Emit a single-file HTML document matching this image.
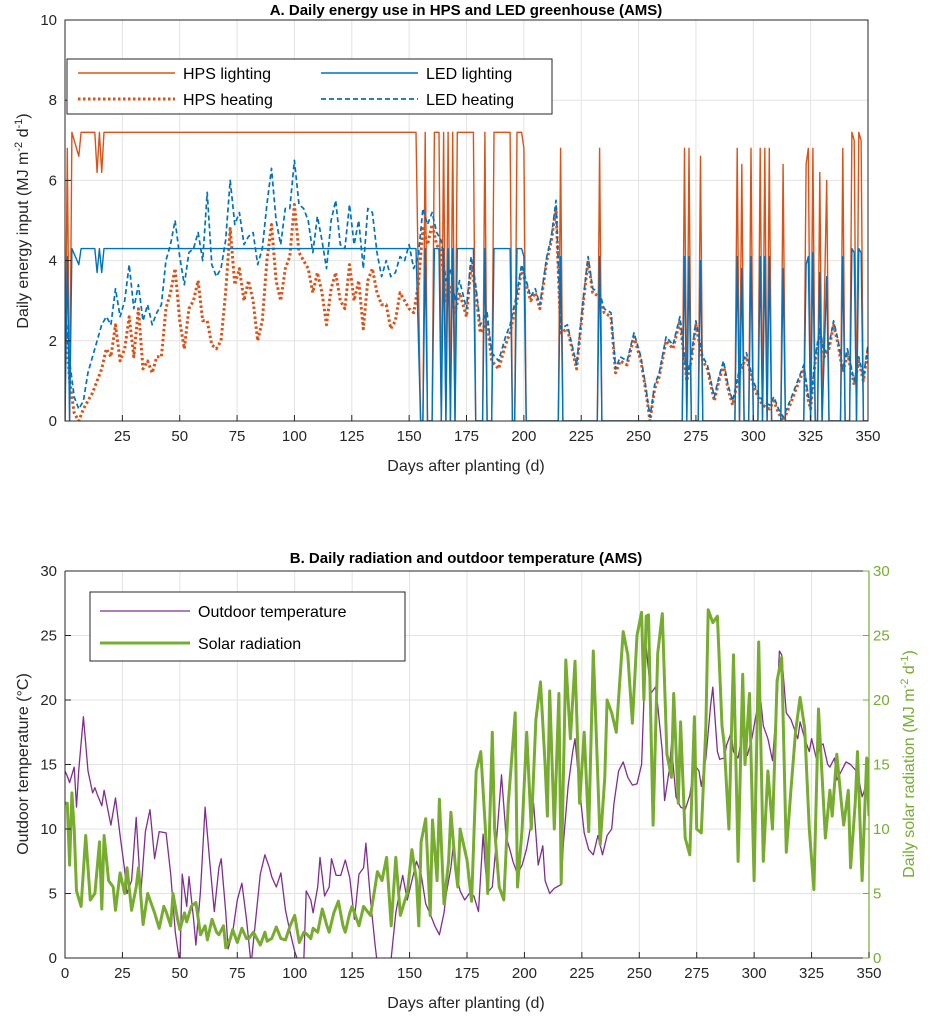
<!DOCTYPE html>
<html><head><meta charset="utf-8"><style>
html,body{margin:0;padding:0;background:#fff}
svg{display:block;font-family:"Liberation Sans",sans-serif}
</style></head><body>
<svg id="svg" width="933" height="1019" viewBox="0 0 933 1019">
<defs>
<clipPath id="clipA"><rect x="65" y="20" width="803" height="401"/></clipPath>
<clipPath id="clipB"><rect x="65" y="571" width="804" height="387"/></clipPath>
</defs>
<g id="gA"></g>
<g id="gB"></g>
</svg>
<script>
const xTicksA = [25,50,75,100,125,150,175,200,225,250,275,300,325,350];
const yTicksA = [0,2,4,6,8,10];
const xTicksB = [0,25,50,75,100,125,150,175,200,225,250,275,300,325,350];
const yTicksB = [0,5,10,15,20,25,30];

const hpsLight = [[0,0],[1,6.8],[2,0],[3,7.2],[6,6.6],[7,7.2],[13,7.2],[14,6.2],[15,7.2],[16,6.2],[17,7.2],[153,7.2],[155,0],[156,0],[157,7.2],[158,0],[160,0],[161,7.2],[163,7.2],[164,0],[165,7.2],[166,0],[167,7.2],[168,0],[169,7.2],[170,0],[171,7.2],[172,7.2],[178,7.2],[179,0],[182,0],[183,7.2],[184,0],[186,0],[187,7.2],[194,7.2],[195,0],[196,0],[197,7.2],[199,7.2],[200,6.8],[201,0],[215,0],[216,6.8],[217,0],[232,0],[233,6.8],[234,0],[269,0],[270,6.8],[271,0],[272,6.8],[273,0],[276,0],[277,6.6],[278,0],[292,0],[293,6.8],[294,0],[295,6.4],[296,0],[298,0],[299,6.8],[300,0],[302,0],[303,6.8],[304,0],[305,6.8],[306,0],[307,6.8],[308,0],[312,0],[313,6.4],[314,0],[322,0],[323,6.4],[324,6.8],[325,0],[326,6.8],[327,0],[328,0],[329,6.2],[330,0],[332,6.0],[333,0],[338,0],[339,6.8],[340,0],[342,0],[343,7.2],[344,7.0],[345,0],[346,7.2],[347,7.0],[348,0],[350,0]];
const ledLight = [[0,0],[1,4.1],[2,0],[3,4.3],[6,3.9],[7,4.3],[13,4.3],[14,3.7],[15,4.3],[16,3.7],[17,4.3],[153,4.3],[155,0],[156,0],[157,4.3],[158,0],[160,0],[161,4.3],[163,4.3],[164,0],[165,4.3],[166,0],[167,4.3],[168,0],[169,4.3],[170,0],[171,4.3],[172,4.3],[178,4.3],[179,0],[182,0],[183,4.3],[184,0],[186,0],[187,4.3],[194,4.3],[195,0],[196,0],[197,4.3],[199,4.3],[200,4.1],[201,0],[215,0],[216,4.1],[217,0],[232,0],[233,4.1],[234,0],[269,0],[270,4.1],[271,0],[272,4.1],[273,0],[276,0],[277,4.0],[278,0],[292,0],[293,4.1],[294,0],[295,3.8],[296,0],[298,0],[299,4.1],[300,0],[302,0],[303,4.1],[304,0],[305,4.1],[306,0],[307,4.1],[308,0],[312,0],[313,3.8],[314,0],[322,0],[323,3.9],[324,4.1],[325,0],[326,4.2],[327,0],[328,0],[329,3.7],[330,0],[332,3.6],[333,0],[338,0],[339,4.1],[340,0],[342,0],[343,4.3],[344,4.2],[345,0],[346,4.3],[347,4.2],[348,0],[350,0]];
const hpsHeat = [[0,2.6],[2,1.0],[4,0.2],[6,0],[8,0.3],[10,0.5],[12,0.7],[14,1.0],[16,1.3],[18,1.8],[20,1.6],[22,2.4],[24,1.5],[26,1.8],[28,2.6],[30,1.6],[32,2.8],[34,1.3],[36,1.5],[38,1.2],[40,1.6],[42,1.6],[44,2.8],[46,3.2],[48,3.8],[50,2.5],[52,1.8],[54,2.8],[56,3.0],[58,3.5],[60,2.5],[62,2.5],[64,1.9],[66,1.8],[68,2.0],[70,3.2],[72,4.8],[74,3.4],[76,3.8],[78,3.0],[80,3.5],[82,3.0],[84,2.0],[86,2.5],[88,4.0],[90,4.9],[92,3.5],[94,3.0],[96,3.8],[98,4.1],[100,5.4],[102,4.2],[104,4.0],[106,3.8],[108,3.2],[110,3.7],[112,3.2],[114,2.4],[116,3.3],[118,3.7],[120,3.0],[122,2.8],[124,3.9],[126,3.0],[128,3.5],[130,2.3],[132,3.5],[134,3.8],[136,3.2],[138,2.9],[140,2.9],[142,2.3],[144,2.5],[146,3.2],[148,3.0],[150,2.8],[152,2.7],[154,3.4],[156,4.8],[158,4.4],[160,4.9],[162,4.4],[164,4.2],[166,3.0],[168,3.4],[170,2.7],[172,3.2],[175,2.6],[177,3.9],[179,3.2],[181,2.2],[184,2.5],[186,1.5],[189,1.3],[192,1.9],[194,2.2],[197,3.0],[199,3.8],[201,3.4],[203,3.0],[205,3.2],[207,2.8],[210,4.0],[212,4.5],[214,5.3],[216,2.2],[219,2.3],[221,1.8],[223,1.3],[226,3.0],[228,4.0],[230,3.2],[233,3.1],[235,2.7],[238,2.6],[240,1.2],[242,1.5],[245,1.4],[248,2.1],[251,1.5],[253,0.8],[255,0.0],[257,0.8],[259,1.1],[262,2.0],[265,1.8],[268,2.5],[271,1.0],[273,1.5],[275,2.4],[278,1.5],[280,1.3],[283,0.5],[285,1.0],[287,1.4],[289,0.8],[291,0.4],[294,1.2],[297,1.6],[300,0.9],[302,0.6],[304,0.4],[307,0.3],[309,0.5],[311,0.2],[313,0.0],[316,0.4],[318,0.7],[320,1.0],[322,1.3],[324,0.5],[325,0.3],[327,1.5],[329,2.2],[331,1.6],[333,1.8],[335,2.4],[337,1.9],[339,1.2],[341,1.7],[344,0.9],[346,1.5],[348,1.0],[350,1.8]];
const ledHeat = [[0,2.8],[2,1.5],[4,0.6],[6,0.3],[8,0.5],[10,1.2],[12,1.6],[14,2.0],[16,2.4],[18,2.6],[20,2.4],[22,3.3],[24,2.6],[26,3.0],[28,3.9],[30,2.8],[32,3.4],[34,2.5],[36,2.9],[38,2.4],[40,2.7],[42,2.9],[44,4.0],[46,4.4],[48,5.0],[50,4.1],[52,3.4],[54,4.2],[56,4.3],[58,4.7],[60,4.0],[62,5.7],[64,3.9],[66,3.6],[68,3.8],[70,4.5],[72,6.0],[74,4.9],[76,5.2],[78,4.4],[80,4.6],[82,4.7],[84,3.9],[86,4.3],[88,5.4],[90,6.3],[92,5.0],[94,4.4],[96,5.3],[98,5.3],[100,6.5],[102,5.4],[104,5.3],[106,5.0],[108,4.2],[110,5.1],[112,4.5],[114,3.8],[116,5.0],[118,5.5],[120,4.4],[122,4.3],[124,5.4],[126,4.4],[128,5.0],[130,3.8],[132,5.3],[134,5.2],[136,4.2],[138,3.6],[140,4.0],[142,3.6],[144,3.7],[146,4.1],[148,4.0],[150,4.4],[152,3.8],[154,4.1],[156,5.3],[158,4.9],[160,5.2],[162,4.7],[164,4.5],[166,3.5],[168,3.8],[170,3.0],[172,3.5],[175,2.8],[177,4.1],[179,3.4],[181,2.4],[184,2.7],[186,1.7],[189,1.5],[192,2.1],[194,2.4],[197,3.2],[199,3.9],[201,3.5],[203,3.1],[205,3.3],[207,2.9],[210,4.1],[212,4.6],[214,5.5],[216,2.3],[219,2.4],[221,1.9],[223,1.4],[226,3.1],[228,4.1],[230,3.3],[233,3.2],[235,2.8],[238,2.7],[240,1.3],[242,1.6],[245,1.5],[248,2.2],[251,1.6],[253,0.9],[255,0.1],[257,0.9],[259,1.2],[262,2.1],[265,1.9],[268,2.6],[271,1.1],[273,1.6],[275,2.5],[278,1.6],[280,1.4],[283,0.6],[285,1.1],[287,1.5],[289,0.9],[291,0.5],[294,1.3],[297,1.7],[300,1.0],[302,0.7],[304,0.5],[307,0.4],[309,0.6],[311,0.3],[313,0.1],[316,0.5],[318,0.8],[320,1.1],[322,1.4],[324,0.6],[325,0.4],[327,1.6],[329,2.3],[331,1.7],[333,1.9],[335,2.5],[337,2.0],[339,1.3],[341,1.8],[344,1.0],[346,1.6],[348,1.1],[350,1.9]];
const tempOut = [[0,14.5],[1,14.1],[2,13.6],[4,14.8],[5,11.7],[6,14.6],[8,18.7],[10,14.5],[12,12.8],[13,13.2],[14,12.7],[16,11.8],[17,13.0],[19,11.2],[20,10.3],[22,12.4],[24,9.5],[26,6.8],[27,5.0],[29,6.0],[31,10.9],[33,5.0],[35,9.8],[37,11.5],[39,7.7],[41,9.8],[44,9.7],[46,6.5],[48,2.0],[50,-0.5],[51,6.5],[53,4.0],[54,6.3],[56,3.0],[57,1.0],[59,5.2],[61,11.7],[63,7.5],[65,3.6],[67,7.0],[68,7.7],[70,3.5],[71,0.7],[73,2.0],[75,4.5],[77,5.8],[79,3.0],[81,-0.5],[83,3.0],[85,6.5],[87,8.0],[89,7.0],[90,6.3],[92,5.5],[94,6.6],[96,3.7],[98,2.0],[100,0.5],[102,-0.5],[104,0],[105,5.2],[107,4.5],[108,3.5],[110,5.5],[111,7.8],[113,4.8],[115,5.5],[116,7.7],[118,6.4],[120,6.4],[122,7.6],[124,6.2],[126,3.0],[128,6.5],[130,7.0],[131,8.9],[133,4.5],[135,1.0],[136,-0.5],[139,0],[141,-0.5],[142,0],[144,3.5],[146,5.5],[147,6.4],[149,4.5],[151,6.0],[153,7.5],[155,6.5],[157,4.2],[159,3.4],[161,2.5],[163,1.8],[165,3.5],[166,5.0],[168,7.0],[169,8.7],[171,6.0],[172,5.2],[174,4.5],[176,5.0],[178,4.8],[180,3.6],[182,9.6],[183,7.0],[184,5.1],[186,5.5],[188,9.5],[190,14.2],[192,9.4],[194,8.2],[195,7.5],[197,6.5],[199,7.2],[201,8.5],[203,10.5],[204,12.0],[206,7.2],[208,8.7],[209,6.0],[211,5.0],[213,5.4],[216,5.7],[217,9.0],[219,13.3],[221,16.0],[222,17.0],[224,13.0],[226,9.7],[228,8.4],[230,8.0],[232,9.5],[234,8.0],[236,9.5],[238,10.0],[239,12.0],[241,14.5],[243,15.2],[245,14.0],[247,13.4],[249,13.5],[251,15.0],[252,20.0],[253,24.1],[255,20.5],[257,21.0],[258,19.6],[260,16.0],[261,12.2],[263,14.5],[264,16.5],[266,12.5],[268,11.7],[270,11.5],[272,12.6],[274,15.0],[276,14.5],[277,13.3],[279,15.5],[281,19.5],[282,21.0],[284,16.0],[285,15.4],[287,15.5],[288,16.5],[290,17.5],[291,16.0],[293,15.5],[295,17.5],[297,15.7],[299,17.0],[301,19.0],[303,19.8],[304,18.0],[306,17.0],[308,15.3],[310,20.0],[311,23.8],[312,23.5],[314,19.0],[316,18.5],[317,18.0],[319,17.0],[320,18.3],[322,17.0],[324,16.0],[325,17.0],[327,15.5],[329,16.5],[330,16.6],[332,15.0],[333,14.8],[335,15.5],[336,13.8],[338,14.5],[340,15.2],[342,15.0],[344,14.6],[345,14.4],[347,12.5],[348,13.0],[350,15.5]];
const solarRad = [[0,12],[1,12],[2,7.2],[3,12.8],[4,10],[5,5.2],[7,4.0],[9,9.5],[11,4.5],[13,5.0],[15,9.0],[16,3.8],[17,9.5],[19,6.0],[21,5.5],[22,3.7],[24,6.6],[26,5.0],[27,7.0],[29,3.7],[31,5.5],[32,7.0],[34,2.6],[36,5.0],[37,4.5],[39,3.5],[41,2.3],[43,4.0],[44,3.6],[46,2.5],[47,5.0],[49,3.0],[50,2.2],[52,3.5],[53,2.8],[55,4.0],[57,4.3],[59,1.8],[61,2.5],[62,1.4],[64,3.0],[66,2.0],[67,1.8],[69,2.5],[70,0.8],[72,1.5],[73,2.2],[75,1.2],[77,2.3],[79,1.5],[80,1.5],[82,2.0],[85,1.0],[87,2.0],[88,1.3],[90,1.5],[92,2.4],[94,1.5],[96,1.4],[98,2.5],[100,3.3],[102,1.2],[104,2.0],[105,1.9],[107,1.5],[108,2.3],[110,2.0],[112,3.8],[114,2.5],[115,2.0],[117,3.5],[119,4.4],[121,2.5],[122,2.0],[124,3.5],[125,4.0],[127,3.0],[128,2.5],[130,4.0],[133,3.3],[135,5.5],[136,6.7],[138,6.0],[140,7.8],[142,2.5],[144,7.8],[146,3.3],[148,4.5],[149,5.0],[151,8.4],[153,6.0],[154,2.5],[155,9.0],[157,10.8],[159,3.3],[160,10.7],[162,6.0],[163,12.3],[165,4.2],[167,7.5],[168,11.3],[170,7.0],[171,5.5],[172,10.0],[175,7.6],[177,4.4],[179,14.5],[181,16.0],[183,10.0],[184,5.0],[186,17.5],[187,10.0],[189,5.5],[191,4.5],[193,12.0],[196,19.0],[197,5.5],[199,10.0],[201,17.5],[203,10.0],[205,18.5],[207,21.4],[209,15.0],[210,11.0],[211,20.7],[213,10.0],[215,20.5],[216,5.8],[218,23.1],[220,17.0],[222,23.0],[224,12.0],[226,17.5],[228,9.8],[230,23.8],[233,8.8],[235,14.0],[236,20.0],[238,19.0],[240,17.5],[243,25.3],[245,23.5],[247,18.2],[249,25.0],[251,26.8],[252,20.0],[253,26.5],[254,26.6],[256,10.3],[258,23.6],[260,26.7],[262,15.8],[264,14.0],[265,20.5],[267,12.0],[268,18.3],[270,9.3],[272,8.0],[274,18.7],[275,10.0],[277,9.7],[279,18.0],[280,27.0],[282,26.0],[284,26.5],[286,18.0],[287,16.5],[289,10.0],[291,23.5],[293,7.5],[295,22.0],[296,15.0],[298,20.5],[300,6.0],[302,24.5],[304,7.5],[306,14.5],[308,10.0],[310,21.5],[312,23.3],[314,8.2],[316,13.0],[318,17.5],[320,20.2],[322,17.8],[324,10.0],[326,5.3],[328,19.3],[331,9.3],[333,13.0],[334,11.0],[336,15.8],[338,12.0],[339,10.3],[341,13.0],[342,7.0],[344,12.0],[345,16.0],[347,6.0],[349,15.5],[350,11]];

const NS = "http://www.w3.org/2000/svg";
function mk(parent, tag, attrs, text) {
  const e = document.createElementNS(NS, tag);
  for (const k in attrs) e.setAttribute(k, attrs[k]);
  if (text !== undefined) e.textContent = text;
  parent.appendChild(e);
  return e;
}
const A = {x0:65, x1:868, yT:20, yB:421, ymax:10};
const B = {x0:65, x1:869, yT:571, yB:958, ymax:30};
const xA = d => A.x0 + d / 350 * (A.x1 - A.x0);
const yA = v => A.yB - v / A.ymax * (A.yB - A.yT);
const xB = d => B.x0 + d / 350 * (B.x1 - B.x0);
const yB = v => B.yB - v / B.ymax * (B.yB - B.yT);
function pathOf(pts, fx, fy) {
  return pts.map((p, i) => (i ? "L" : "M") + fx(p[0]).toFixed(1) + "," + fy(p[1]).toFixed(1)).join("");
}

// ---------- Chart A ----------
const gA = document.getElementById("gA");
for (const t of xTicksA) {
  const l = mk(gA, "line", {x1:xA(t), x2:xA(t), y1:A.yT, y2:A.yB, stroke:"#e3e3e3", "stroke-width":1});
  
  
}
for (const t of yTicksA) {
  const l = mk(gA, "line", {x1:A.x0, x2:A.x1, y1:yA(t), y2:yA(t), stroke:"#e3e3e3", "stroke-width":1});
  
  
}
const seriesA = [
  {pts:hpsLight, c:"#D95319", w:1.4, dash:null, name:"hps-lighting-line"},
  {pts:hpsHeat, c:"#D95319", w:3, dash:"2.5,2.5", name:"hps-heating-line"},
  {pts:ledHeat, c:"#0072BD", w:1.7, dash:"5,3", name:"led-heating-line"},
  {pts:ledLight, c:"#0072BD", w:1.4, dash:null, name:"led-lighting-line"}
];
for (const s of seriesA) {
  const p = mk(gA, "path", {d:pathOf(s.pts, xA, yA), fill:"none", stroke:s.c, "stroke-width":s.w, "clip-path":"url(#clipA)", "stroke-linejoin":"round"});
  if (s.dash) p.setAttribute("stroke-dasharray", s.dash);
  
  
}
const boxA = mk(gA, "rect", {x:A.x0, y:A.yT, width:A.x1-A.x0, height:A.yB-A.yT, fill:"none", stroke:"#262626", "stroke-width":1});


for (const t of xTicksA) {
  const tk = mk(gA, "line", {x1:xA(t), x2:xA(t), y1:A.yB, y2:A.yB-6, stroke:"#262626"});
  
  
  const lb = mk(gA, "text", {x:xA(t), y:A.yB+20, "text-anchor":"middle", "font-size":15, fill:"#262626"}, String(t));
  
  
}
for (const t of yTicksA) {
  const tk = mk(gA, "line", {x1:A.x0, x2:A.x0+6, y1:yA(t), y2:yA(t), stroke:"#262626"});
  
  
  const lb = mk(gA, "text", {x:A.x0-8, y:yA(t)+5, "text-anchor":"end", "font-size":15, fill:"#262626"}, String(t));
  
  
}
</script>
<script>
// static text for chart A
(function(){
const gA = document.getElementById("gA");
gA.insertAdjacentHTML("beforeend", `
<text x="466" y="15" text-anchor="middle" font-size="15" font-weight="bold" fill="#000">A. Daily energy use in HPS and LED greenhouse (AMS)</text>
<text x="466" y="471" text-anchor="middle" font-size="16" fill="#262626">Days after planting (d)</text>
<text transform="translate(28,221) rotate(-90)" text-anchor="middle" font-size="16" fill="#262626">Daily energy input (MJ m<tspan dy="-6" font-size="11">-2</tspan><tspan dy="6"> d</tspan><tspan dy="-6" font-size="11">-1</tspan><tspan dy="6">)</tspan></text>
<g>
<rect x="67" y="59" width="485" height="55" fill="#fff" stroke="#262626" stroke-width="1"/>
<g><line x1="78" x2="175" y1="73" y2="73" stroke="#D95319" stroke-width="1.4"/><text x="183" y="79" font-size="16" fill="#000">HPS lighting</text></g>
<g><line x1="78" x2="175" y1="99" y2="99" stroke="#D95319" stroke-width="3" stroke-dasharray="2.5,2.5"/><text x="183" y="105" font-size="16" fill="#000">HPS heating</text></g>
<g><line x1="321" x2="418" y1="73" y2="73" stroke="#0072BD" stroke-width="1.4"/><text x="426" y="79" font-size="16" fill="#000">LED lighting</text></g>
<g><line x1="321" x2="418" y1="99" y2="99" stroke="#0072BD" stroke-width="1.7" stroke-dasharray="5,3"/><text x="426" y="105" font-size="16" fill="#000">LED heating</text></g>
</g>`);
})();

// ---------- Chart B ----------
const gB = document.getElementById("gB");
for (const t of xTicksB) {
  const l = mk(gB, "line", {x1:xB(t), x2:xB(t), y1:B.yT, y2:B.yB, stroke:"#e3e3e3", "stroke-width":1});
  
  
}
for (const t of yTicksB) {
  const l = mk(gB, "line", {x1:B.x0, x2:B.x1, y1:yB(t), y2:yB(t), stroke:"#e3e3e3", "stroke-width":1});
  
  
}
const tp = mk(gB, "path", {d:pathOf(tempOut, xB, yB), fill:"none", stroke:"#7E2F8E", "stroke-width":1.3, "clip-path":"url(#clipB)", "stroke-linejoin":"round"});


const sp = mk(gB, "path", {d:pathOf(solarRad, xB, yB), fill:"none", stroke:"#77AC30", "stroke-width":3, "clip-path":"url(#clipB)", "stroke-linejoin":"round"});


const fl = mk(gB, "path", {d:`M${B.x0},${B.yT}V${B.yB}H${B.x1}`, fill:"none", stroke:"#262626", "stroke-width":1});


const tl = mk(gB, "line", {x1:B.x0, x2:B.x1, y1:B.yT, y2:B.yT, stroke:"#262626", "stroke-width":1});


const rl = mk(gB, "line", {x1:B.x1, x2:B.x1, y1:B.yT, y2:B.yB, stroke:"#77AC30", "stroke-width":1.2});


for (const t of xTicksB) {
  const tk = mk(gB, "line", {x1:xB(t), x2:xB(t), y1:B.yB, y2:B.yB-6, stroke:"#262626"});
  
  
  const lb = mk(gB, "text", {x:xB(t), y:B.yB+20, "text-anchor":"middle", "font-size":15, fill:"#262626"}, String(t));
  
  
}
for (const t of yTicksB) {
  const tk = mk(gB, "line", {x1:B.x0, x2:B.x0+6, y1:yB(t), y2:yB(t), stroke:"#262626"});
  
  
  const lb = mk(gB, "text", {x:B.x0-8, y:yB(t)+5, "text-anchor":"end", "font-size":15, fill:"#262626"}, String(t));
  
  
  const tr = mk(gB, "line", {x1:B.x1, x2:B.x1-6, y1:yB(t), y2:yB(t), stroke:"#77AC30"});
  
  
  const lr = mk(gB, "text", {x:B.x1+4, y:yB(t)+5, "text-anchor":"start", "font-size":15, fill:"#77AC30"}, String(t));
  
  
}
gB.insertAdjacentHTML("beforeend", `
<text x="466" y="563" text-anchor="middle" font-size="15" font-weight="bold" fill="#000">B. Daily radiation and outdoor temperature (AMS)</text>
<text x="466" y="1008" text-anchor="middle" font-size="16" fill="#262626">Days after planting (d)</text>
<text transform="translate(28,764) rotate(-90)" text-anchor="middle" font-size="16" fill="#262626">Outdoor temperature (°C)</text>
<text transform="translate(914,764) rotate(-90)" text-anchor="middle" font-size="16" fill="#77AC30">Daily solar radiation (MJ m<tspan dy="-6" font-size="11">-2</tspan><tspan dy="6"> d</tspan><tspan dy="-6" font-size="11">-1</tspan><tspan dy="6">)</tspan></text>
<g>
<rect x="90" y="592" width="315" height="69" fill="#fff" stroke="#262626" stroke-width="1"/>
<g><line x1="100" x2="190" y1="611" y2="611" stroke="#7E2F8E" stroke-width="1.3"/><text x="198" y="617" font-size="16" fill="#000">Outdoor temperature</text></g>
<g><line x1="100" x2="190" y1="643" y2="643" stroke="#77AC30" stroke-width="3"/><text x="198" y="649" font-size="16" fill="#000">Solar radiation</text></g>
</g>`);
</script>
</body></html>
